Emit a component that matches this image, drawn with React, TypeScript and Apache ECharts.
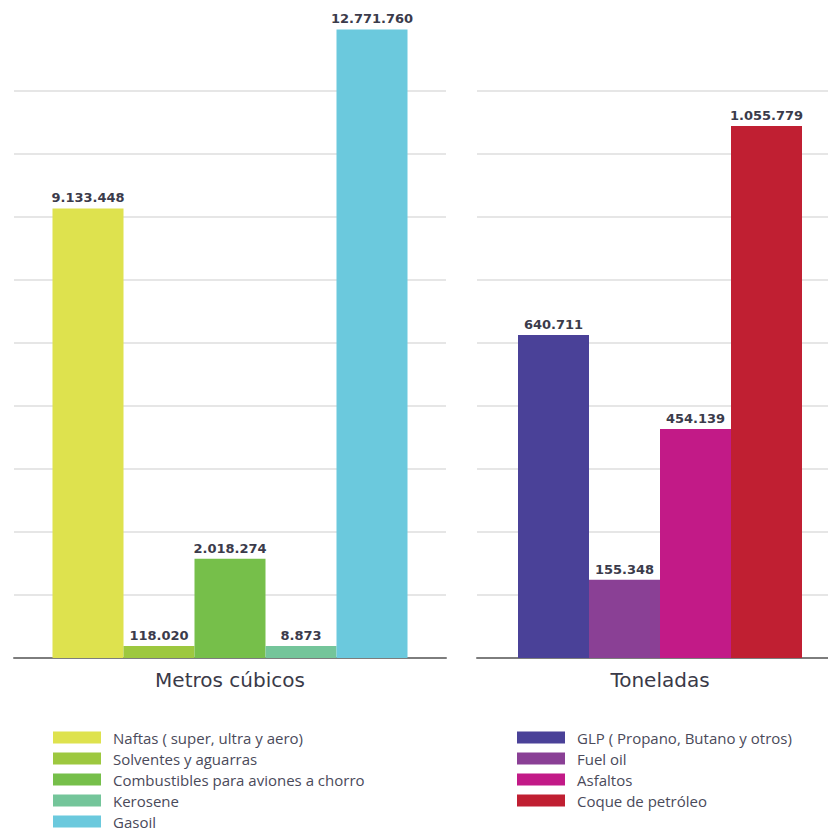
import React, { useEffect, useRef } from "react";
import * as echarts from "echarts";

const leftCategory = ["Metros cúbicos"];
const rightCategory = ["Toneladas"];

const leftNames = [
  "Naftas ( super, ultra y aero)",
  "Solventes y aguarras",
  "Combustibles para aviones a chorro",
  "Kerosene",
  "Gasoil",
];
const leftValues = [9133448, 118020, 2018274, 8873, 12771760];
const leftColors = ["#dee24e", "#9dc83f", "#76bf4a", "#74c59a", "#6bc9dd"];

const rightNames = [
  "GLP ( Propano, Butano y otros)",
  "Fuel oil",
  "Asfaltos",
  "Coque de petróleo",
];
const rightValues = [640711, 155348, 454139, 1055779];
const rightColors = ["#4a4198", "#8a4095", "#c21a87", "#c01f32"];

const fmt = (v: number) => String(v).replace(/\B(?=(\d{3})+(?!\d))/g, ".");

const labelStyle = {
  show: true,
  position: "top" as const,
  distance: 4,
  fontFamily: "DejaVu Sans",
  fontWeight: "bold" as const,
  fontSize: 13,
  color: "#3b3b4b",
  formatter: (p: any) => fmt(p.value),
};

function buildSeries(names: string[], values: number[], colors: string[], idx: number) {
  return names.map((n, i) => ({
    type: "bar",
    name: n,
    xAxisIndex: idx,
    yAxisIndex: idx,
    data: [values[i]],
    barWidth: 71,
    barGap: "0%",
    barMinHeight: 12,
    itemStyle: { color: colors[i] },
    label: labelStyle,
  }));
}

export default function App() {
  const ref = useRef<HTMLDivElement>(null);
  useEffect(() => {
    if (!ref.current) return;
    const chart = echarts.init(ref.current, undefined, { renderer: "svg" });
    const splitLine = {
      show: true,
      showMaxLine: false,
      lineStyle: { color: "#e6e6e6", width: 2 },
    };
    const xAxisCommon = {
      type: "category" as const,
      axisTick: { show: false },
      axisLine: { lineStyle: { color: "#7d7d7d", width: 2 } },
      axisLabel: {
        fontFamily: "DejaVu Sans",
        fontSize: 20,
        color: "#3a3a48",
        margin: 12,
      },
    };
    const legendCommon = {
      orient: "vertical" as const,
      top: 730,
      height: 110,
      padding: 0,
      itemWidth: 48,
      itemHeight: 12,
      itemGap: 6,
      icon: "rect",
      selectedMode: false,
      textStyle: {
        fontFamily: "Open Sans",
        fontSize: 15,
        color: "#4a4a5a",
        padding: [0, 0, 0, 7],
        lineHeight: 15,
      },
    };
    chart.setOption({
      animation: false,
      backgroundColor: "#ffffff",
      grid: [
        { left: 14, top: 28, width: 432, bottom: 173, outerBoundsMode: "none" },
        { left: 477, top: 28, width: 366, bottom: 173, outerBoundsMode: "none" },
      ],
      xAxis: [
        { ...xAxisCommon, gridIndex: 0, data: leftCategory },
        { ...xAxisCommon, gridIndex: 1, data: rightCategory },
      ],
      yAxis: [
        {
          type: "value",
          gridIndex: 0,
          min: 0,
          max: 12800000,
          interval: 1280000,
          axisLabel: { show: false },
          axisLine: { show: false },
          axisTick: { show: false },
          splitLine,
        },
        {
          type: "value",
          gridIndex: 1,
          min: 0,
          max: 1250000,
          interval: 125000,
          axisLabel: { show: false },
          axisLine: { show: false },
          axisTick: { show: false },
          splitLine,
        },
      ],
      legend: [
        { ...legendCommon, left: 53, data: leftNames },
        { ...legendCommon, left: 517, data: rightNames },
      ],
      series: [
        ...buildSeries(leftNames, leftValues, leftColors, 0),
        ...buildSeries(rightNames, rightValues, rightColors, 1),
      ],
    });
    return () => chart.dispose();
  }, []);
  return (
    <div
      ref={ref}
      style={{ position: "absolute", left: 0, top: 0, width: 828, height: 831 }}
    />
  );
}
